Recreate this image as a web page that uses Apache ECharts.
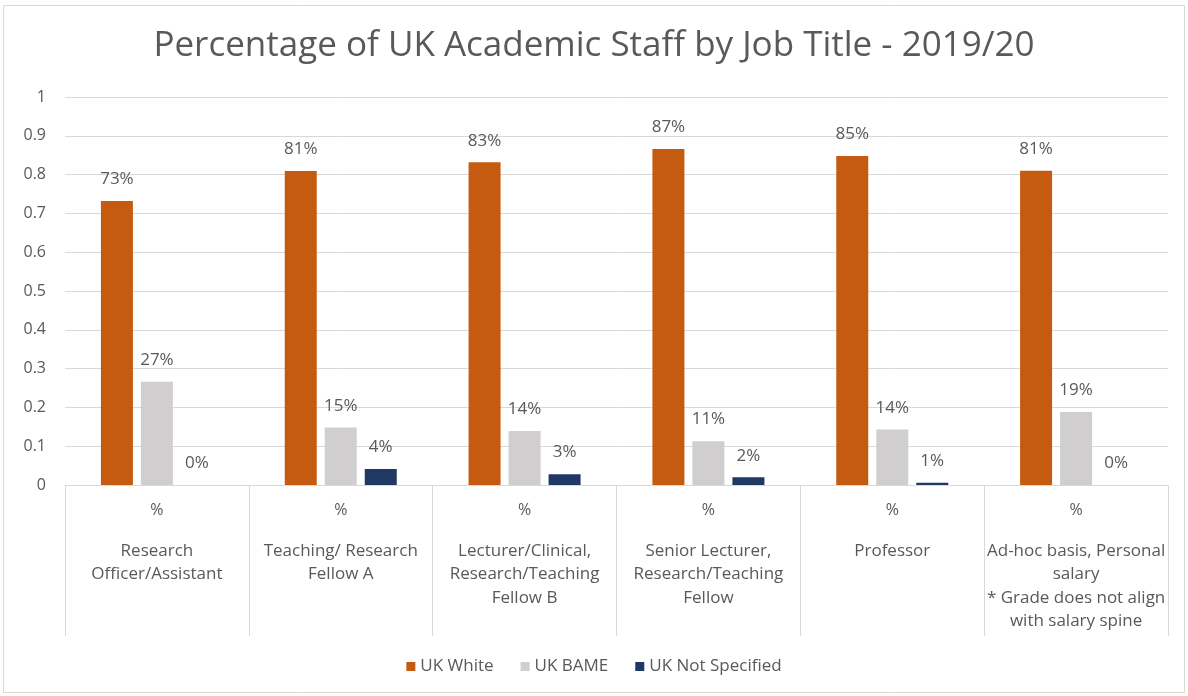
<!DOCTYPE html>
<html>
<head>
<meta charset="utf-8">
<script src="https://cdn.jsdelivr.net/npm/echarts@6/dist/echarts.min.js"></script>
<style>
  html, body { margin: 0; padding: 0; background: #fff; }
  #chart { width: 1188px; height: 696px; }
</style>
</head>
<body>
<div id="chart"></div>
<script>
// Job title groups (second level of the category axis)
const jobTitles = [
  ['Research', 'Officer/Assistant'],
  ['Teaching/ Research', 'Fellow A'],
  ['Lecturer/Clinical,', 'Research/Teaching', 'Fellow B'],
  ['Senior Lecturer,', 'Research/Teaching', 'Fellow'],
  ['Professor'],
  ['Ad-hoc basis, Personal', 'salary', '* Grade does not align', 'with salary spine']
];
const measureLabel = '%';
const seriesNames = ['UK White', 'UK BAME', 'UK Not Specified'];

// Share of staff in each group (fraction of 1)
const ukWhite        = [0.732, 0.809, 0.832, 0.866, 0.848, 0.810];
const ukBame         = [0.266, 0.148, 0.139, 0.113, 0.143, 0.188];
const ukNotSpecified = [0.000, 0.041, 0.028, 0.020, 0.006, 0.000];

const yTicks = { min: 0, max: 1, interval: 0.1 };

const colors = ['#C55A11', '#D0CECE', '#203864'];
const textColor = '#595959';
const font = '"Open Sans", sans-serif';

const chart = echarts.init(document.getElementById('chart'), null, { renderer: 'canvas' });

const categories = jobTitles.map((_, i) => String(i));

function makeSeries(name, data, color) {
  return {
    name: name,
    type: 'bar',
    data: data,
    barWidth: 32,
    barGap: '25%',
    itemStyle: { color: color },
    label: {
      show: true,
      position: 'top',
      distance: 13,
      color: textColor,
      fontFamily: font,
      fontSize: 17,
      formatter: p => Math.round(p.value * 100) + '%'
    }
  };
}

chart.setOption({
  animation: false,
  backgroundColor: '#fff',
  textStyle: { fontFamily: font },
  graphic: [{
    type: 'rect',
    shape: { x: 3.5, y: 5.5, width: 1181, height: 687 },
    style: { fill: 'none', stroke: '#d9d9d9', lineWidth: 1 },
    silent: true
  }],
  title: {
    text: 'Percentage of UK Academic Staff by Job Title - 2019/20',
    left: 'center',
    top: 24,
    textStyle: { fontFamily: font, fontSize: 35, fontWeight: 'normal', color: textColor }
  },
  legend: {
    data: seriesNames,
    bottom: 16,
    left: 'center',
    icon: 'rect',
    itemWidth: 9,
    itemHeight: 9,
    itemGap: 27,
    textStyle: { fontFamily: font, fontSize: 17, color: textColor }
  },
  grid: { left: 65, right: 20, top: 97, bottom: 211, containLabel: false },
  xAxis: {
    type: 'category',
    data: categories,
    axisLine: { show: true, lineStyle: { color: '#d9d9d9', width: 1 } },
    axisTick: { show: true, length: 151, lineStyle: { color: '#d9d9d9' } },
    axisLabel: {
      interval: 0,
      margin: 10,
      color: textColor,
      fontFamily: font,
      formatter: (v, i) => {
        const lines = ['{p|' + measureLabel + '}', '{g|}'];
        jobTitles[i].forEach(t => lines.push('{n|' + t + '}'));
        return lines.join('\n');
      },
      rich: {
        p: { fontSize: 16, lineHeight: 30, color: textColor, fontFamily: font },
        g: { fontSize: 15, lineHeight: 14 },
        n: { fontSize: 17, lineHeight: 23.5, color: textColor, fontFamily: font }
      }
    }
  },
  yAxis: {
    type: 'value',
    min: yTicks.min,
    max: yTicks.max,
    interval: yTicks.interval,
    axisLine: { show: false },
    axisTick: { show: false },
    splitLine: { lineStyle: { color: '#d9d9d9', width: 1 } },
    axisLabel: {
      margin: 19,
      color: textColor,
      fontFamily: font,
      fontSize: 16,
      formatter: v => String(Math.round(v * 10) / 10)
    }
  },
  series: [
    makeSeries(seriesNames[0], ukWhite, colors[0]),
    makeSeries(seriesNames[1], ukBame, colors[1]),
    makeSeries(seriesNames[2], ukNotSpecified, colors[2])
  ]
});
</script>
</body>
</html>
